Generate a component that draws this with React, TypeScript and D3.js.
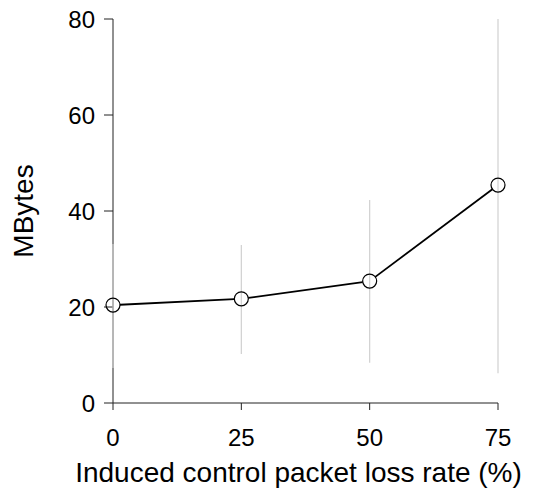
import React from "react";
import * as d3 from "d3";

// values
const lossRates = [0, 25, 50, 75];
const meanMB = [20.4, 21.7, 25.4, 45.4];
const lowMB = [7.3, 10.2, 8.4, 6.2];
const highMB = [33.1, 32.9, 42.3, 80];
const yTicks = [0, 20, 40, 60, 80];

const W = 533;
const H = 489;
const margin = { top: 19, right: 35, bottom: 86, left: 113 };

export default function App() {
  const x = d3
    .scaleLinear()
    .domain([0, 75])
    .range([margin.left, margin.left + 385]);
  const y = d3
    .scaleLinear()
    .domain([0, 80])
    .range([H - margin.bottom, margin.top]);

  const r = 7;
  const pts = lossRates.map((v, i) => ({ px: x(v), py: y(meanMB[i]) }));

  // R type="b": segments stop at the circle edge
  const segs = pts.slice(1).map((p, i) => {
    const a = pts[i];
    const dx = p.px - a.px;
    const dy = p.py - a.py;
    const len = Math.sqrt(dx * dx + dy * dy);
    const ux = dx / len;
    const uy = dy / len;
    return {
      x1: a.px + ux * r,
      y1: a.py + uy * r,
      x2: p.px - ux * r,
      y2: p.py - uy * r,
    };
  });

  const font = "Liberation Sans, Arial, sans-serif";
  const axisColor = "#222";

  return (
    <svg
      width={W}
      height={H}
      style={{ position: "absolute", left: 0, top: 0, background: "#fff" }}
      fontFamily={font}
    >
      {/* y axis */}
      <line
        x1={x(0)}
        x2={x(0)}
        y1={y(0)}
        y2={y(80)}
        stroke={axisColor}
        strokeWidth={1}
      />
      {yTicks.map((t) => (
        <g key={t}>
          <line
            x1={x(0) - 9}
            x2={x(0)}
            y1={y(t)}
            y2={y(t)}
            stroke={axisColor}
          />
          <text
            x={x(0) - 18}
            y={y(t)}
            dy="0.36em"
            textAnchor="end"
            fontSize={24}
            fill="#000"
          >
            {t}
          </text>
        </g>
      ))}

      {/* x axis */}
      <line
        x1={x(0)}
        x2={x(75)}
        y1={y(0)}
        y2={y(0)}
        stroke={axisColor}
        strokeWidth={1}
      />
      {lossRates.map((t) => (
        <g key={t}>
          <line
            x1={x(t)}
            x2={x(t)}
            y1={y(0)}
            y2={y(0) + 7}
            stroke={axisColor}
          />
          <text
            x={x(t)}
            y={446}
            textAnchor="middle"
            fontSize={24}
            fill="#000"
          >
            {t}
          </text>
        </g>
      ))}

      {/* error bars */}
      {lossRates.map((v, i) => (
        <line
          key={"e" + v}
          x1={x(v)}
          x2={x(v)}
          y1={y(lowMB[i])}
          y2={y(highMB[i])}
          stroke="#d0d0d0"
          strokeWidth={1.2}
        />
      ))}

      {/* line + points */}
      {segs.map((s, i) => (
        <line
          key={"s" + i}
          {...s}
          stroke="#000"
          strokeWidth={1.8}
        />
      ))}
      {pts.map((p, i) => (
        <circle
          key={"p" + i}
          cx={p.px}
          cy={p.py}
          r={r}
          fill="none"
          stroke="#000"
          strokeWidth={1.2}
        />
      ))}

      {/* labels */}
      <text
        x={(x(0) + x(75)) / 2 - 7}
        y={482}
        textAnchor="middle"
        fontSize={28}
        fill="#000"
      >
        Induced control packet loss rate (%)
      </text>
      <text
        transform={`translate(33,${(y(0) + y(80)) / 2}) rotate(-90)`}
        textAnchor="middle"
        fontSize={28}
        fill="#000"
      >
        MBytes
      </text>
    </svg>
  );
}
